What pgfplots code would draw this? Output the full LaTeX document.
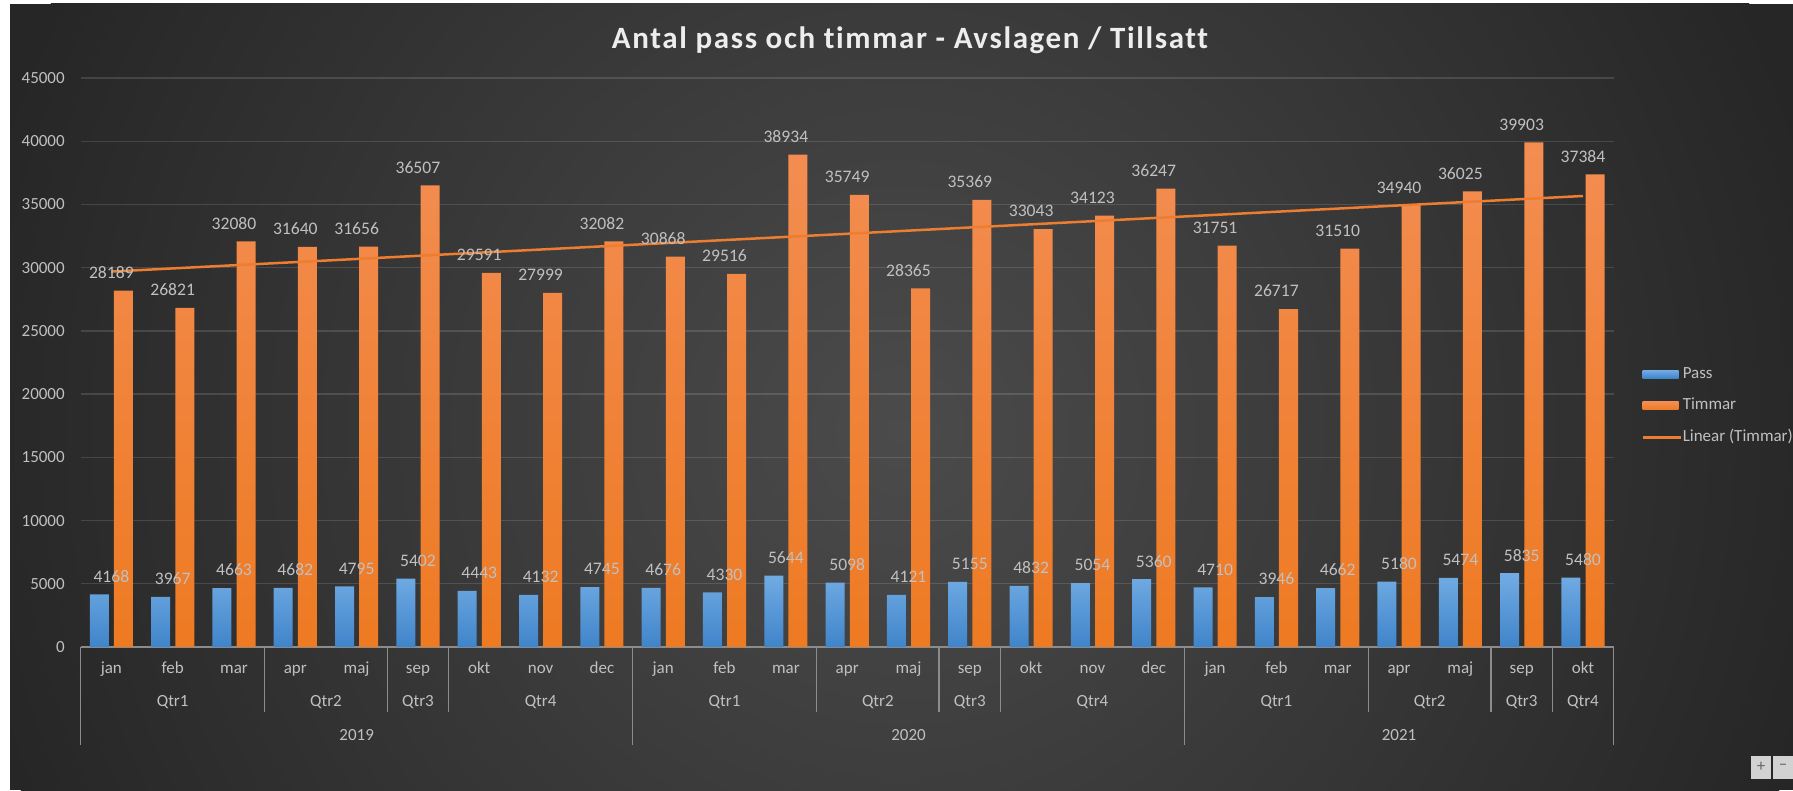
\documentclass[border=0pt]{standalone}
\usepackage{fontspec}
\setmainfont{Carlito}[Ligatures=NoCommon]
\newfontfamily\titlefont{Carlito}[LetterSpace=5.2, Ligatures=NoCommon]
\usepackage{pgfplots}
\pgfplotsset{compat=1.18}
\usepackage{pgfplotstable}
\newlength\px
\setlength\px{0.25mm}
\definecolor{bgdark}{HTML}{262626}
\definecolor{bglight}{HTML}{4B4B4B}
\definecolor{txt}{HTML}{C0C0C0}
\definecolor{ttl}{HTML}{EDEDED}
\definecolor{axisgray}{HTML}{8C8C8C}
\definecolor{oranget}{HTML}{F38D52}
\definecolor{orangeb}{HTML}{EE7A22}
\definecolor{bluet}{HTML}{72ACE3}
\definecolor{blueb}{HTML}{3F84CA}
\definecolor{trend}{HTML}{ED7D31}
\newcommand\ticks{\fontsize{4.25mm}{5mm}\selectfont}
\newcommand\labs{\fontsize{4.4mm}{5mm}\selectfont}

\pgfplotstableread{
x pass timmar
0 4168 28189
1 3967 26821
2 4663 32080
3 4682 31640
4 4795 31656
5 5402 36507
6 4443 29591
7 4132 27999
8 4745 32082
9 4676 30868
10 4330 29516
11 5644 38934
12 5098 35749
13 4121 28365
14 5155 35369
15 4832 33043
16 5054 34123
17 5360 36247
18 4710 31751
19 3946 26717
20 4662 31510
21 5180 34940
22 5474 36025
23 5835 39903
24 5480 37384
}\datatable

\begin{document}
\begin{tikzpicture}
\fill[white] (0,0) rectangle (1793\px,-790\px);
\begin{scope}
\clip (10\px,-4\px) rectangle (1793\px,-790\px);
\fill[bgdark] (10\px,-4\px) rectangle (1793\px,-790\px);
\shade[inner color=bglight, outer color=bgdark] (900\px,-430\px) circle (950\px);
\end{scope}

\node[font=\titlefont\bfseries\fontsize{7.75mm}{9mm}\selectfont, text=ttl, anchor=base, inner sep=0pt] at (910\px,-48.3\px) {Antal pass och timmar - Avslagen / Tillsatt};

\begin{axis}[
  at={(80.7\px,-647\px)}, anchor=south west,
  scale only axis, width=1533\px, height=569\px,
  xmin=-0.5, xmax=24.5, ymin=0, ymax=45000,
  axis x line*=bottom, axis y line*=left,
  x axis line style={draw=axisgray, line width=1.5\px},
  y axis line style={draw=none},
  ytick={0,5000,...,45000},
  ymajorgrids,
  major grid style={draw=white, opacity=0.13, line width=1.3\px},
  major tick length=0pt,
  scaled y ticks=false,
  /pgf/number format/1000 sep={},
  /pgf/number format/assume math mode=true,
  yticklabel style={font=\ticks, text=txt, inner sep=0pt, xshift=-15.7\px},
  xtick={0,...,24},
  xticklabels={jan,feb,mar,apr,maj,sep,okt,nov,dec,jan,feb,mar,apr,maj,sep,okt,nov,dec,jan,feb,mar,apr,maj,sep,okt},
  xticklabel style={font=\ticks, text=txt, anchor=base, inner sep=0pt, yshift=-26.5\px},
  clip=false,
  bar width=0.31,
  every node near coord/.append style={font=\labs, text=txt, anchor=south, inner sep=0pt, yshift=11.8\px},
  legend style={draw=none, fill=none, at={(axis description cs:1.0178,0.424)}, anchor=west,
    font=\ticks, text=txt, inner sep=0pt, row sep=13.5\px,
    nodes={inner sep=1\px, text height=12\px, text depth=4\px}},
  legend cell align=left,
]
\addplot[ybar, bar shift=-0.197, draw=none, top color=bluet, bottom color=blueb, nodes near coords,
  legend image code/.code={\fill[top color=bluet, bottom color=blueb] (0\px,-4\px) rectangle (36\px,4\px);}]
  table[x=x,y=pass]{\datatable};
\addlegendentry{Pass}
\addplot[ybar, bar shift=0.197, draw=none, top color=oranget, bottom color=orangeb, nodes near coords,
  legend image code/.code={\fill[top color=oranget, bottom color=orangeb] (0\px,-4\px) rectangle (36\px,4\px);}]
  table[x=x,y=timmar]{\datatable};
\addlegendentry{Timmar}
\addplot[trend, line width=2.5\px, sharp plot,
  legend image code/.code={\draw[trend, line width=2.5\px] (0\px,0\px) -- (38\px,0\px);}]
  coordinates {(0,29692) (24,35669)};
\addlegendentry{Linear (Timmar)}

% quarter labels
\node[font=\ticks, text=txt, anchor=base, inner sep=0pt] at ([yshift=-59.5\px]axis cs:1,0) {Qtr1};
\node[font=\ticks, text=txt, anchor=base, inner sep=0pt] at ([yshift=-59.5\px]axis cs:3.5,0) {Qtr2};
\node[font=\ticks, text=txt, anchor=base, inner sep=0pt] at ([yshift=-59.5\px]axis cs:5,0) {Qtr3};
\node[font=\ticks, text=txt, anchor=base, inner sep=0pt] at ([yshift=-59.5\px]axis cs:7,0) {Qtr4};
\node[font=\ticks, text=txt, anchor=base, inner sep=0pt] at ([yshift=-59.5\px]axis cs:10,0) {Qtr1};
\node[font=\ticks, text=txt, anchor=base, inner sep=0pt] at ([yshift=-59.5\px]axis cs:12.5,0) {Qtr2};
\node[font=\ticks, text=txt, anchor=base, inner sep=0pt] at ([yshift=-59.5\px]axis cs:14,0) {Qtr3};
\node[font=\ticks, text=txt, anchor=base, inner sep=0pt] at ([yshift=-59.5\px]axis cs:16,0) {Qtr4};
\node[font=\ticks, text=txt, anchor=base, inner sep=0pt] at ([yshift=-59.5\px]axis cs:19,0) {Qtr1};
\node[font=\ticks, text=txt, anchor=base, inner sep=0pt] at ([yshift=-59.5\px]axis cs:21.5,0) {Qtr2};
\node[font=\ticks, text=txt, anchor=base, inner sep=0pt] at ([yshift=-59.5\px]axis cs:23,0) {Qtr3};
\node[font=\ticks, text=txt, anchor=base, inner sep=0pt] at ([yshift=-59.5\px]axis cs:24,0) {Qtr4};
% year labels
\node[font=\ticks, text=txt, anchor=base, inner sep=0pt] at ([yshift=-93\px]axis cs:4,0) {2019};
\node[font=\ticks, text=txt, anchor=base, inner sep=0pt] at ([yshift=-93\px]axis cs:13,0) {2020};
\node[font=\ticks, text=txt, anchor=base, inner sep=0pt] at ([yshift=-93\px]axis cs:21,0) {2021};
% quarter separators
\draw[axisgray, line width=1.5\px] (axis cs:2.5,0) -- ([yshift=-65\px]axis cs:2.5,0);
\draw[axisgray, line width=1.5\px] (axis cs:4.5,0) -- ([yshift=-65\px]axis cs:4.5,0);
\draw[axisgray, line width=1.5\px] (axis cs:5.5,0) -- ([yshift=-65\px]axis cs:5.5,0);
\draw[axisgray, line width=1.5\px] (axis cs:11.5,0) -- ([yshift=-65\px]axis cs:11.5,0);
\draw[axisgray, line width=1.5\px] (axis cs:13.5,0) -- ([yshift=-65\px]axis cs:13.5,0);
\draw[axisgray, line width=1.5\px] (axis cs:14.5,0) -- ([yshift=-65\px]axis cs:14.5,0);
\draw[axisgray, line width=1.5\px] (axis cs:20.5,0) -- ([yshift=-65\px]axis cs:20.5,0);
\draw[axisgray, line width=1.5\px] (axis cs:22.5,0) -- ([yshift=-65\px]axis cs:22.5,0);
\draw[axisgray, line width=1.5\px] (axis cs:23.5,0) -- ([yshift=-65\px]axis cs:23.5,0);
% year separators
\draw[axisgray, line width=1.5\px] (axis cs:-0.5,0) -- ([yshift=-98\px]axis cs:-0.5,0);
\draw[axisgray, line width=1.5\px] (axis cs:8.5,0) -- ([yshift=-98\px]axis cs:8.5,0);
\draw[axisgray, line width=1.5\px] (axis cs:17.5,0) -- ([yshift=-98\px]axis cs:17.5,0);
\draw[axisgray, line width=1.5\px] (axis cs:24.5,0) -- ([yshift=-98\px]axis cs:24.5,0);
\end{axis}

% zoom widget
\fill[gray!35] (1751\px,-756\px) rectangle (1771\px,-779\px);
\fill[gray!35] (1773\px,-756\px) rectangle (1793\px,-779\px);
\node[font=\ticks, text=black!60, inner sep=0pt] at (1761\px,-767\px) {+};
\node[font=\ticks, text=black!60, inner sep=0pt] at (1783\px,-767\px) {–};

\pgfresetboundingbox
\useasboundingbox (0,0) rectangle (1793\px,-790\px);
\end{tikzpicture}
\end{document}
